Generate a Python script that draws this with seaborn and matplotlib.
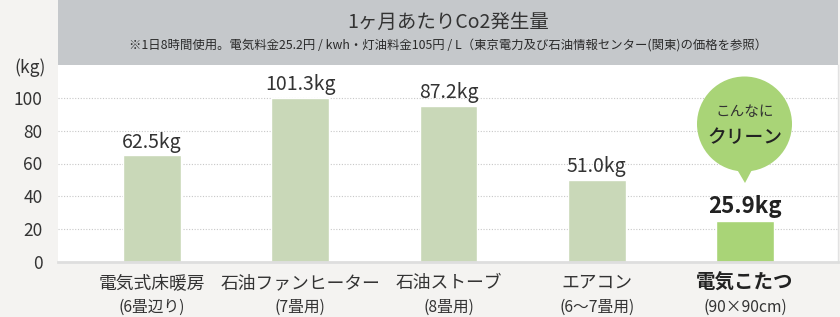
import matplotlib
matplotlib.use("Agg")
import matplotlib.pyplot as plt
import seaborn as sns
import pandas as pd
from matplotlib.patches import Rectangle, Circle, Polygon

# ---- data ----
categories = ["電気式床暖房", "石油ファンヒーター", "石油ストーブ", "エアコン", "電気こたつ"]
sub_labels = ["(6畳辺り)", "(7畳用)", "(8畳用)", "(6〜7畳用)", "(90×90cm)"]
bar_heights = [65, 100, 95, 50, 25]
value_labels = ["62.5kg", "101.3kg", "87.2kg", "51.0kg", "25.9kg"]
bar_colors = ["#c9d8b8", "#c9d8b8", "#c9d8b8", "#c9d8b8", "#a9d477"]
yticks = [0, 20, 40, 60, 80, 100]
title = "1ヶ月あたりCo2発生量"
subtitle = "※1日8時間使用。電気料金25.2円 / kwh・灯油料金105円 / L（東京電力及び石油情報センター(関東)の価格を参照）"

sns.set_theme(style="white")
plt.rcParams['font.family'] = ['Noto Sans CJK JP', 'DejaVu Sans']

BG = "#f4f3f1"
TXT = "#333333"

fig = plt.figure(figsize=(8.4, 3.17), dpi=100, facecolor=BG)
ax = fig.add_axes([58/840, (317-262)/317, 780/840, 197/317])
ax.set_facecolor("white")

df = pd.DataFrame({"cat": categories, "h": bar_heights})
sns.barplot(data=df, x="cat", y="h", hue="cat", palette=bar_colors,
            width=0.39, legend=False, ax=ax, saturation=1)

ax.set_xlim(-0.634, 4.627)
ax.set_ylim(0, 120)
ax.set_yticks(yticks)
ax.set_yticklabels([str(t) for t in yticks], fontsize=12.5, color=TXT)
ax.tick_params(axis='y', length=0, pad=11)
ax.set_xticks(range(len(categories)))
ax.set_xticklabels([""] * len(categories))
ax.tick_params(axis='x', length=0)
ax.set_xlabel("")
ax.set_ylabel("")
for t in yticks[1:]:
    ax.axhline(t, color="#c8c8c8", lw=0.8, ls=(0, (1, 1.5)), zorder=0)

for s in ["top", "left"]:
    ax.spines[s].set_visible(False)
ax.spines["bottom"].set_color("#dedede")
ax.spines["bottom"].set_linewidth(2)
ax.spines["right"].set_color("#e2e2e2")
ax.spines["right"].set_linewidth(1)

# value labels
for i, (h, lab) in enumerate(zip(bar_heights, value_labels)):
    last = i == len(categories) - 1
    ax.annotate(lab, xy=(i, h), xytext=(0, 5.5 if not last else 6),
                textcoords="offset points", ha="center", va="baseline",
                fontsize=14 if not last else 16, color="#222222" if last else TXT,
                fontweight="bold" if last else "normal")

# category labels (two lines)
xt = ax.get_xaxis_transform()
for i, (c, s) in enumerate(zip(categories, sub_labels)):
    last = i == len(categories) - 1
    ax.text(i, -0.107, c, transform=xt, ha="center", va="center",
            fontsize=12.8 if not last else 14, color="#222222" if last else TXT,
            fontweight="bold" if last else "normal")
    ax.text(i, -0.23, s, transform=xt, ha="center", va="center",
            fontsize=11.3, color=TXT)

# title panel
fig.patches.append(Rectangle((58/840, (317-65)/317), 780/840, 65/317,
                             transform=fig.transFigure, facecolor="#c5c8cb",
                             edgecolor="none", zorder=0))
fig.text(448/840, 1 - 22/317, title, ha="center", va="center",
         fontsize=14, color=TXT)
fig.text(448/840, 1 - 46/317, subtitle, ha="center", va="center",
         fontsize=8.9, color="#2a2a2a")
fig.text(30/840, 1 - 68/317, "(kg)", ha="center", va="center",
         fontsize=12.5, color=TXT)

# speech bubble
tr = fig.dpi_scale_trans
H = 3.17
fig.patches.append(Circle((7.445, H - 1.24), 0.475, transform=tr,
                          facecolor="#a9d477", edgecolor="none", zorder=5))
fig.patches.append(Polygon([(7.35, H - 1.66), (7.54, H - 1.66), (7.45, H - 1.83)],
                           closed=True, transform=tr, facecolor="#a9d477",
                           edgecolor="none", zorder=5))
fig.text(7.45, H - 1.12, "こんなに", transform=tr, ha="center", va="center",
         fontsize=10.5, color=TXT, zorder=6)
fig.text(7.45, H - 1.38, "クリーン", transform=tr, ha="center", va="center",
         fontsize=13.5, color="#222222", fontweight="medium", zorder=6)

fig.savefig("out.png", dpi=100, facecolor=BG)
